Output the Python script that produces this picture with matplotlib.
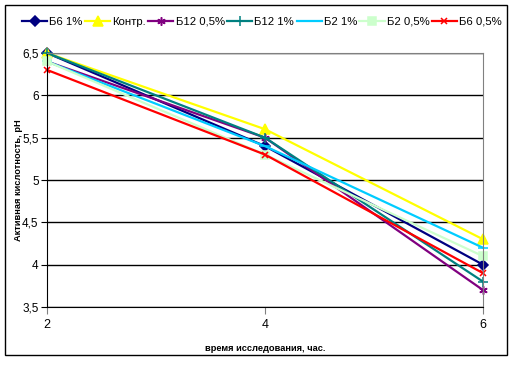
import matplotlib.pyplot as plt
from matplotlib.patches import Rectangle
from matplotlib.ticker import FuncFormatter

plt.rcParams['font.family'] = ['Liberation Sans', 'DejaVu Sans']

hours = [2, 4, 6]
labels = ["Б6 1%", "Контр.", "Б12 0,5%", "Б12 1%", "Б2 1%", "Б2 0,5%", "Б6 0,5%"]
b6_1 = [6.5, 5.4, 4.0]
control = [6.5, 5.6, 4.3]
b12_05 = [6.4, 5.5, 3.7]
b12_1 = [6.5, 5.5, 3.8]
b2_1 = [6.4, 5.4, 4.2]
b2_05 = [6.4, 5.3, 4.1]
b6_05 = [6.3, 5.3, 3.9]

series = [b6_1, control, b12_05, b12_1, b2_1, b2_05, b6_05]
colors = ["#000080", "#FFFF00", "#800080", "#008080", "#00CCFF", "#CCFFCC", "#FF0000"]
markers = ["D", "^", (6, 2, 0), "+", "_", "s", "x"]
msizes = [5, 7, 6, 7, 7, 6, 5]

fig = plt.figure(figsize=(5.12, 3.65), dpi=100)
ax = fig.add_axes([47 / 512, 58 / 365, 436 / 512, 254 / 365])

for vals, lab, c, m, ms in zip(series, labels, colors, markers, msizes):
    ax.plot(hours, vals, color=c, lw=1.6, marker=m, ms=ms, mew=1.1,
            label=lab, clip_on=False)

ax.set_xlim(2, 6)
ax.set_ylim(3.5, 6.5)
ax.set_xticks(hours)
ax.set_yticks([3.5, 4, 4.5, 5, 5.5, 6, 6.5])
fmt = FuncFormatter(lambda v, p: ("%g" % v).replace(".", ","))
ax.yaxis.set_major_formatter(fmt)
ax.grid(axis="y", color="black", lw=1)
ax.set_axisbelow(True)
ax.spines["top"].set_color("#808080")
ax.spines["right"].set_color("#808080")
ax.tick_params(axis="x", colors="#808080", labelcolor="black", length=5, labelsize=9, pad=4)
ax.tick_params(axis="y", length=4, labelsize=8.5, pad=2)

ax.set_xlabel("время исследования, час.", fontsize=6.7, fontweight="bold", labelpad=9)
ax.set_ylabel("Активная кислотность, pH", fontsize=6.7, fontweight="bold")
ax.yaxis.set_label_coords(-0.054, 0.5)

fig.legend(loc="center", bbox_to_anchor=(262 / 512, 1 - 22 / 365), ncol=7,
           frameon=False, fontsize=8.2, handlelength=2.2, handletextpad=0.2,
           columnspacing=0.2, borderpad=0)

fig.patches.append(Rectangle((5 / 512, 10 / 365), 502 / 512, 350 / 365,
                             transform=fig.transFigure, fill=False,
                             edgecolor="black", lw=1))

fig.savefig("out.png", dpi=100)
